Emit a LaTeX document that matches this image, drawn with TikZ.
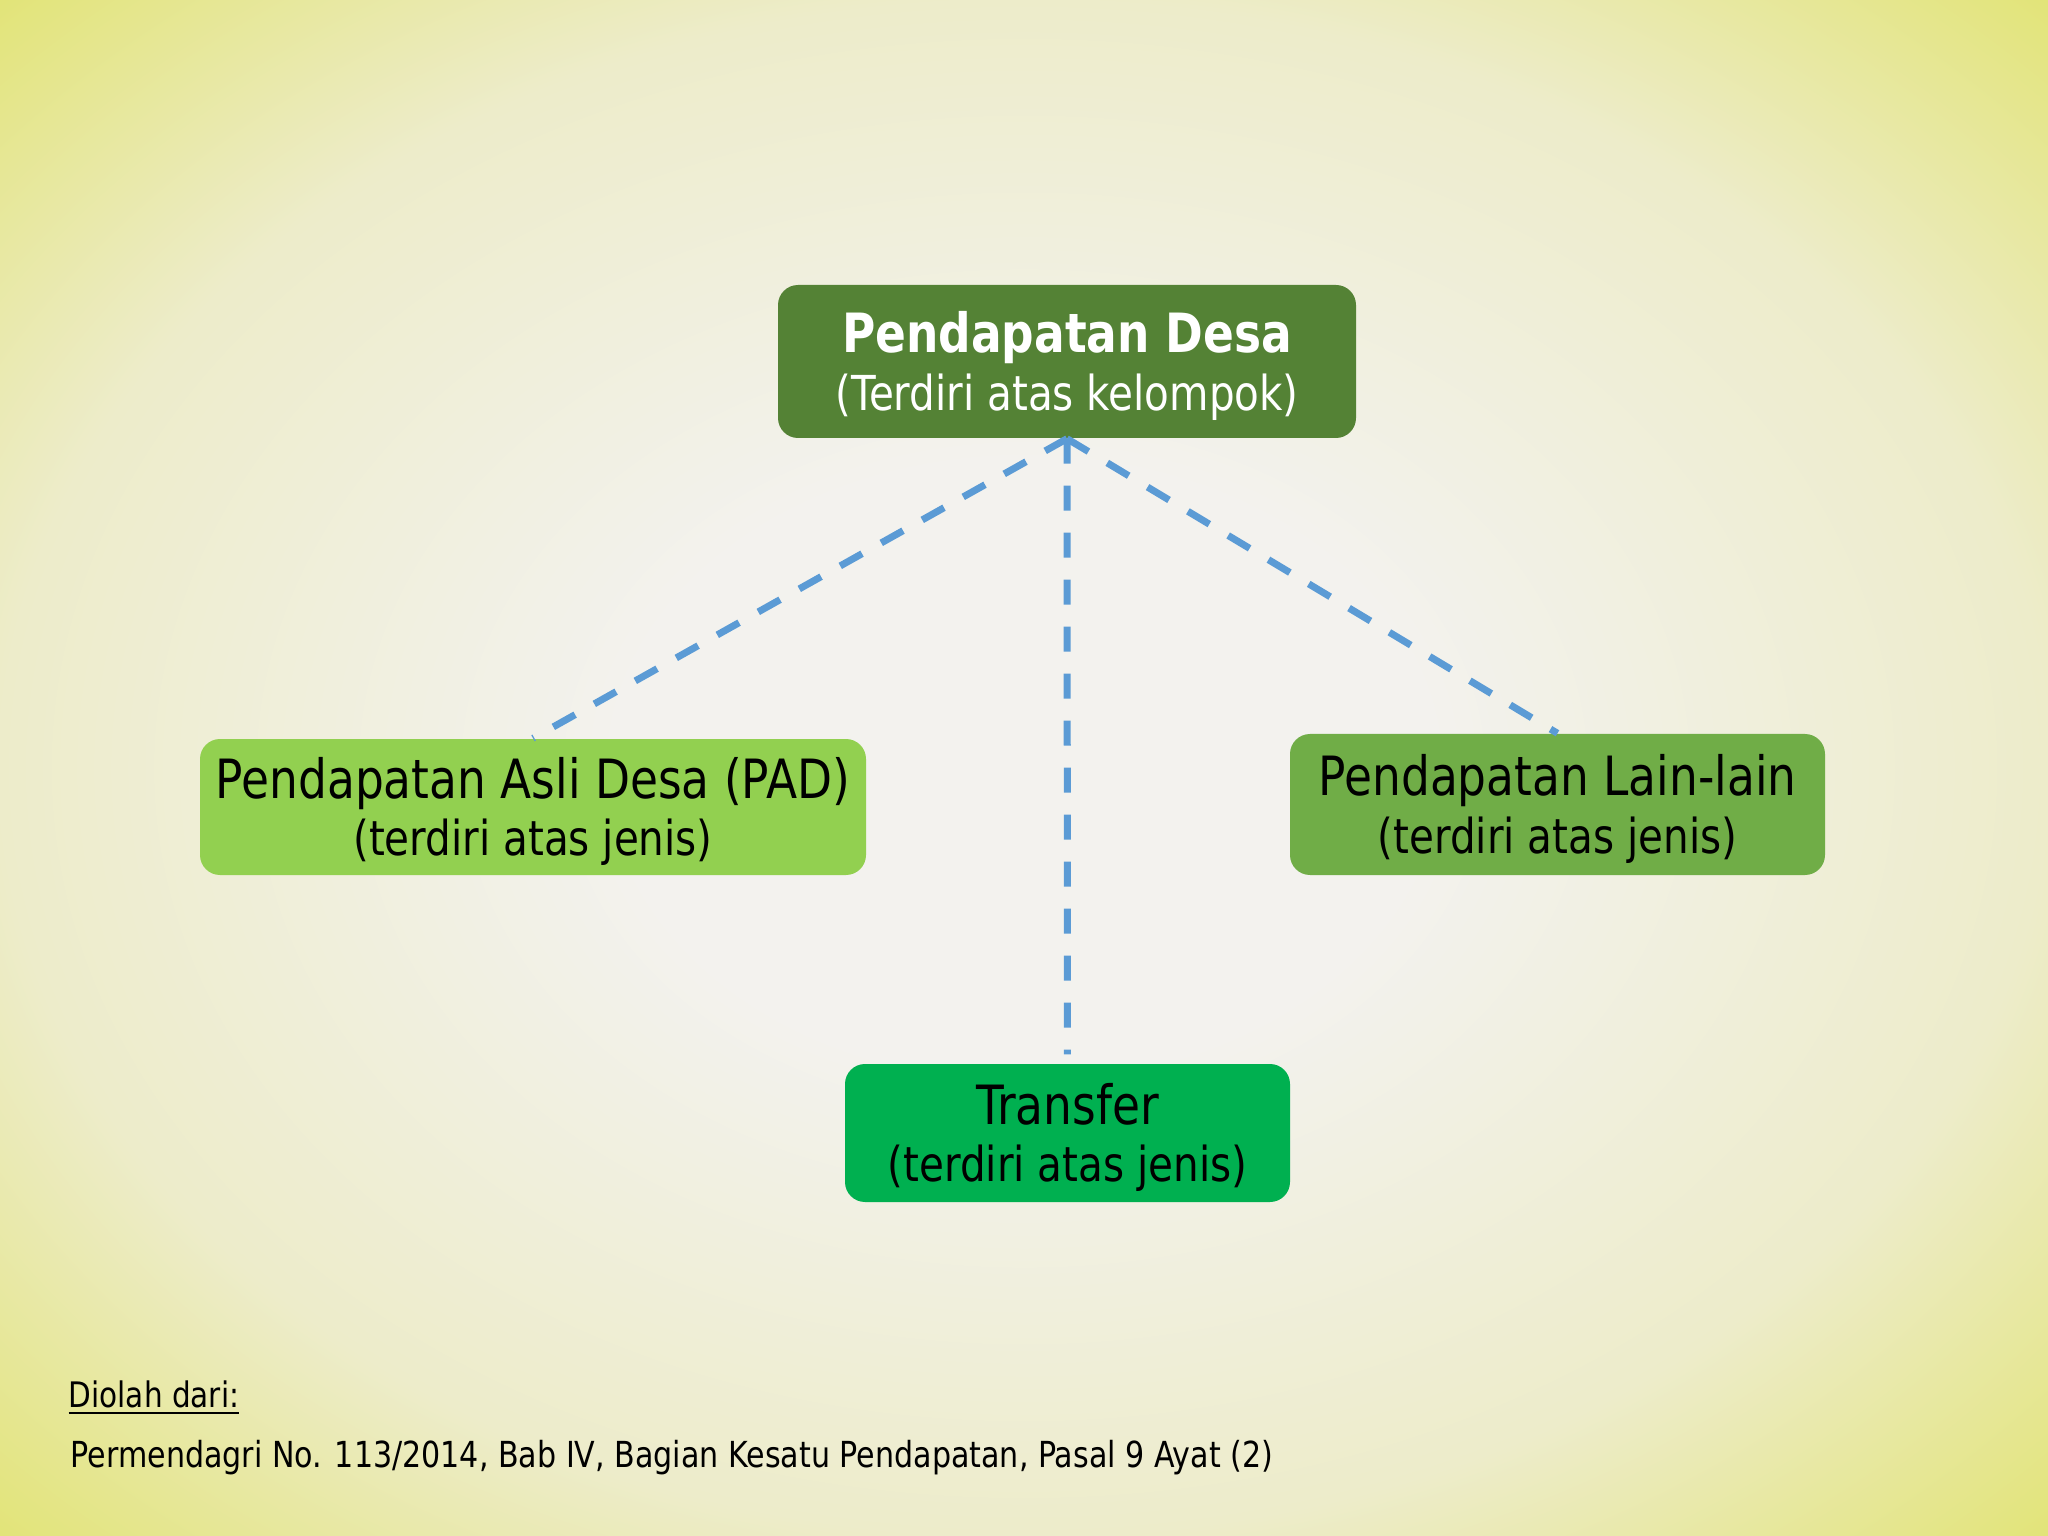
\documentclass[tikz,border=0pt]{standalone}
\usepackage{fontspec}
\setmainfont{DejaVu Sans}[FakeStretch=0.84]
\usetikzlibrary{positioning}
\definecolor{bgin}{HTML}{F3F2EE}
\definecolor{bgedge}{HTML}{EDECCA}
\definecolor{bgcorner}{HTML}{E2E478}
\definecolor{desagreen}{HTML}{548235}
\definecolor{padgreen}{HTML}{92D050}
\definecolor{laingreen}{HTML}{70AD47}
\definecolor{transgreen}{HTML}{00B050}
\definecolor{linkblue}{HTML}{5B9BD5}
\pgfdeclareradialshading{slidebg}{\pgfpoint{0bp}{0bp}}{color(0bp)=(bgin); color(10bp)=(bgin); color(25bp)=(bgedge); color(35.4bp)=(bgcorner); color(50bp)=(bgcorner)}
\tikzset{
  box/.style={rounded corners=0.2cm, inner sep=0pt, align=center,
    font=\fontsize{13.7}{16.4}\selectfont},
  link/.style={linkblue, line width=0.07cm, dash pattern=on 0.25cm off 0.22cm}
}
\newcommand{\boxtitle}[1]{{\fontsize{15.4}{16.4}\selectfont\rule{0pt}{0.92em}#1}}

\begin{document}
\begin{tikzpicture}
	\shade[shading=slidebg] (0,0) rectangle (20.48,-15.36);
	\useasboundingbox (0,0) rectangle (20.48,-15.36);
	\node[box, fill=desagreen, text=white, minimum width=5.78cm, minimum height=1.53cm] (desa) at (10.67,-3.615) {\boxtitle{\bfseries Pendapatan Desa}\\(Terdiri atas kelompok)};
	\node[box, fill=padgreen, minimum width=6.66cm, minimum height=1.36cm] (pad) at (5.33,-8.07) {\boxtitle{Pendapatan Asli Desa (PAD)}\\(terdiri atas jenis)};
	\node[box, fill=laingreen, minimum width=5.35cm, minimum height=1.41cm] (lain) at (15.575,-8.045) {\boxtitle{Pendapatan Lain-lain}\\(terdiri atas jenis)};
	\node[box, fill=transgreen, minimum width=4.45cm, minimum height=1.38cm] (transfer) at (10.675,-11.33) {\boxtitle{Transfer}\\(terdiri atas jenis)};
	\draw[link] (desa.south) -- (pad.north);
	\draw[link] (desa.south) -- (lain.north);
	\draw[link, shorten >=0.09cm] (desa.south) -- (transfer.north);
	\node[anchor=west, inner sep=0pt, font=\fontsize{10}{12}\selectfont] (diolah) at (0.68,-13.98) {\underline{Diolah dari:}};
	\node[anchor=west, inner sep=0pt, font=\fontsize{10.2}{12}\selectfont] (sumber) at (0.70,-14.58) {Permendagri No. 113/2014, Bab IV, Bagian Kesatu Pendapatan, Pasal 9 Ayat (2)};
\end{tikzpicture}
\end{document}
